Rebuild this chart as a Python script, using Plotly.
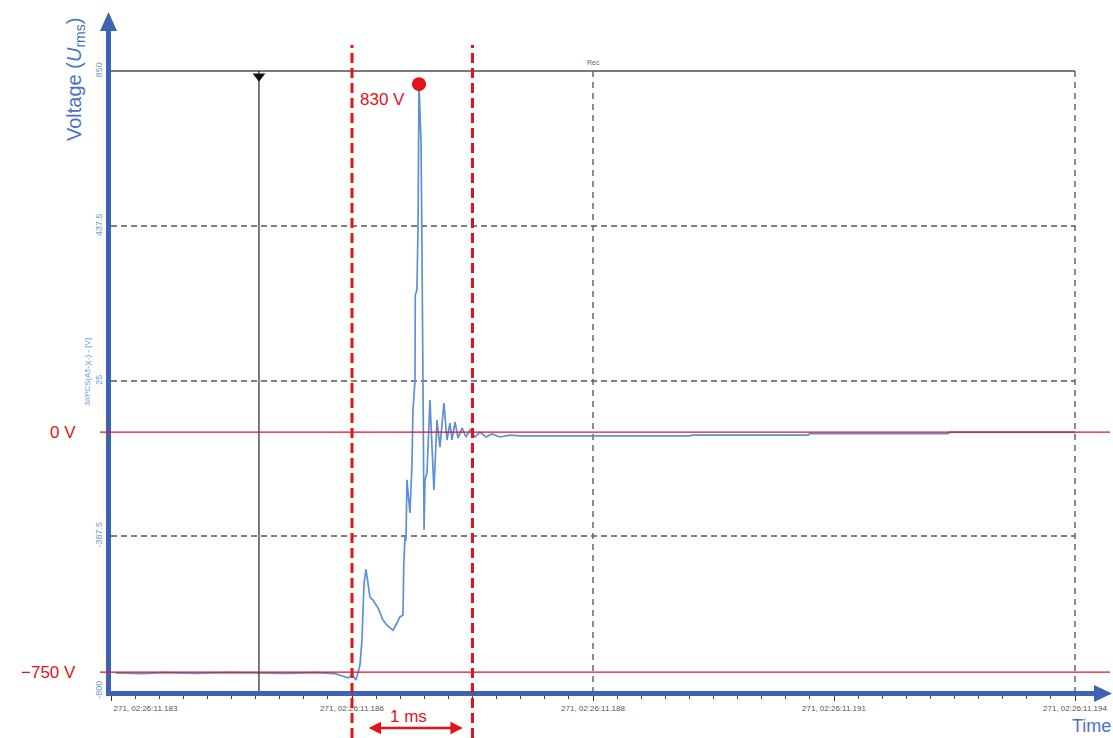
import plotly.graph_objects as go

# ---------------- data ----------------
time_ms = [0.04, 0.25, 0.45, 0.70, 0.95, 1.20, 1.45, 1.70, 1.86, 1.92, 1.97, 2.00, 2.033,
           2.066, 2.083, 2.091, 2.100, 2.116, 2.125, 2.133, 2.149, 2.174, 2.216, 2.257, 2.290,
           2.315, 2.340, 2.373, 2.398, 2.423, 2.430, 2.440, 2.448, 2.456, 2.465, 2.481, 2.498,
           2.506, 2.523, 2.525, 2.539, 2.548, 2.556, 2.573, 2.581, 2.589, 2.593, 2.598, 2.606,
           2.622, 2.647, 2.664, 2.680, 2.705, 2.730, 2.763, 2.788, 2.813, 2.830, 2.855, 2.880,
           2.913, 2.946, 2.979, 3.021, 3.062, 3.112, 3.162, 3.228, 3.311, 3.394, 3.510, 4.805,
           4.820, 5.784, 5.800, 6.946, 6.960, 8.000]
voltage = [-752, -754, -751, -753, -751, -752, -753, -751, -754, -760, -765, -757, -771,
           -731, -664, -590, -513, -476, -500, -518, -550, -558, -579, -611, -625,
           -632, -638, -619, -603, -598, -459, -390, -400, -238, -265, -326, -193,
           -52, 28, 254, 267, 435, 815, 658, 366, 73, -105, -371, -238,
           -220, -26, -159, -265, -79, -151, -34, -132, -87, -132, -84, -127,
           -100, -124, -105, -124, -111, -124, -116, -124, -119, -121, -121, -121,
           -119, -119, -115, -115, -111, -111]

y_tick_vals = [850, 437.5, 25, -387.5, -800]
y_tick_text = ["850", "437.5", "25", "-387.5", "-800"]
x_tick_vals = [0, 2, 4, 6, 8]
x_tick_text = ["271, 02:26:11.183", "271, 02:26:11.186", "271, 02:26:11.188",
               "271, 02:26:11.191", "271, 02:26:11.194"]
dashed_grid_y = [437.5, 25, -387.5]
solid_top_y = 850
grid_x = [4, 8]
cursor_x = 1.228
window_x = [2.0, 3.0]          # red dashed 1 ms window
ref_levels = [-111, -750]      # red reference lines
ref_labels = ["0 V", "\u2212750 V"]
peak_x, peak_v = 2.556, 815
peak_label = "830 V"

# ---------------- layout geometry ----------------
X0, X1 = 0.0, 8.166
Y0, Y1 = -800.0, 964.4
W, H = 1113, 738
ML, MR, MT, MB = 111, 18, 28, 47
PW, PH = W - ML - MR, H - MT - MB

def xp_px(px):
    return (px - ML) / PW

def yp_px(py):
    return (H - MB - py) / PH

def xp(u):
    return (u - X0) / (X1 - X0)

def yp(v):
    return (v - Y0) / (Y1 - Y0)

RED = "#e3121b"
BLUE_AX = "#3d64b3"
BLUE_TXT = "#4a74c4"
BLUE_TICK = "#6a9bd8"
FONT = "Arial, Liberation Sans, sans-serif"

fig = go.Figure()

# signal
fig.add_trace(go.Scatter(x=time_ms, y=voltage, mode="lines",
                         line=dict(color="#5e90d8", width=1.7), hoverinfo="skip"))
# cursor line
fig.add_trace(go.Scatter(x=[cursor_x, cursor_x], y=[solid_top_y, -800], mode="lines",
                         line=dict(color="#222222", width=1.2), hoverinfo="skip"))
fig.add_trace(go.Scatter(x=[cursor_x], y=[solid_top_y - 14], mode="markers",
                         marker=dict(symbol="triangle-down", size=11, color="#111111"),
                         hoverinfo="skip"))
# peak dot
fig.add_trace(go.Scatter(x=[peak_x], y=[peak_v], mode="markers",
                         marker=dict(size=14, color=RED), hoverinfo="skip"))

shapes = []
# top solid line
shapes.append(dict(type="line", xref="x", yref="y", x0=0, x1=8, y0=solid_top_y, y1=solid_top_y,
                   line=dict(color="#7a7a7a", width=2), layer="below"))
for gy in dashed_grid_y:
    shapes.append(dict(type="line", xref="x", yref="y", x0=0, x1=8, y0=gy, y1=gy,
                       line=dict(color="#555555", width=1.5, dash="6px,4px"), layer="below"))
for gx in grid_x:
    shapes.append(dict(type="line", xref="x", yref="y", x0=gx, x1=gx, y0=solid_top_y, y1=-800,
                       line=dict(color="#666666", width=1.5, dash="6px,5px"), layer="below"))
# red reference lines
for lv in ref_levels:
    shapes.append(dict(type="line", xref="paper", yref="paper", x0=xp_px(100), x1=xp_px(1110),
                       y0=yp(lv), y1=yp(lv), line=dict(color=RED, width=1.3)))
# red dashed window
for wx in window_x:
    shapes.append(dict(type="line", xref="paper", yref="paper", x0=xp(wx), x1=xp(wx),
                       y0=yp_px(738), y1=yp_px(45), line=dict(color=RED, width=3, dash="10px,5px")))
# axis arrowheads
shapes.append(dict(type="path", xref="paper", yref="paper",
                   path=f"M {xp_px(100)},{yp_px(31)} L {xp_px(117)},{yp_px(31)} L {xp_px(108.5)},{yp_px(12)} Z",
                   fillcolor=BLUE_AX, line=dict(width=0)))
shapes.append(dict(type="path", xref="paper", yref="paper",
                   path=f"M {xp_px(1094)},{yp_px(685)} L {xp_px(1094)},{yp_px(702)} L {xp_px(1112)},{yp_px(693.5)} Z",
                   fillcolor=BLUE_AX, line=dict(width=0)))

annotations = []
for lv, lt in zip(ref_levels, ref_labels):
    annotations.append(dict(text=lt, xref="paper", yref="paper", x=xp_px(78), y=yp(lv),
                            xanchor="right", yanchor="middle", showarrow=False,
                            font=dict(size=17, color=RED, family=FONT)))
annotations.append(dict(text=peak_label, xref="paper", yref="y", x=xp_px(358), y=peak_v - 42,
                        xanchor="left", yanchor="middle", showarrow=False,
                        font=dict(size=17, color=RED, family=FONT)))
annotations.append(dict(text="1 ms", xref="x", yref="paper", x=(window_x[0] + window_x[1]) / 2 - 0.03,
                        y=yp_px(716), xanchor="center", yanchor="middle", showarrow=False,
                        font=dict(size=17, color=RED, family=FONT)))
annotations.append(dict(text="", xref="x", yref="paper", x=window_x[1] - 0.08, y=yp_px(728),
                        axref="x", ayref="pixel", ax=window_x[0] + 0.125, ay=0,
                        showarrow=True, arrowside="end+start", arrowhead=2, arrowsize=1,
                        arrowwidth=2.5, arrowcolor=RED, standoff=0, startstandoff=0))
annotations.append(dict(text="Voltage (<i>U</i><sub>rms</sub>)", xref="paper", yref="paper",
                        x=xp_px(75), y=yp_px(80), textangle=-90, showarrow=False,
                        xanchor="center", yanchor="middle",
                        font=dict(size=20, color=BLUE_TXT, family=FONT)))
annotations.append(dict(text="3#PCS(A5-)(-) - [V]", xref="paper", yref="paper",
                        x=xp_px(88), y=yp_px(372), textangle=-90, showarrow=False,
                        xanchor="center", yanchor="middle",
                        font=dict(size=8, color=BLUE_TICK, family=FONT)))
annotations.append(dict(text="Time", xref="paper", yref="paper", x=xp_px(1091), y=yp_px(726),
                        showarrow=False, xanchor="center", yanchor="middle",
                        font=dict(size=18, color=BLUE_TXT, family=FONT)))
annotations.append(dict(text="Rec", xref="x", yref="paper", x=4, y=yp_px(62),
                        showarrow=False, xanchor="center", yanchor="middle",
                        font=dict(size=7, color="#666666", family=FONT)))

pad = "\u00a0" * 31
x_text = [pad + x_tick_text[0]] + x_tick_text[1:]

fig.update_layout(
    template="none",
    width=W, height=H,
    margin=dict(l=ML, r=MR, t=MT, b=MB, pad=0),
    paper_bgcolor="white", plot_bgcolor="white",
    showlegend=False,
    shapes=shapes, annotations=annotations,
    xaxis=dict(range=[X0, X1], showgrid=False, zeroline=False, showline=True,
               linecolor=BLUE_AX, linewidth=5, ticks="outside", ticklen=5, tickwidth=1,
               tickcolor="#333333", tickvals=x_tick_vals, ticktext=x_text,
               ticklabeloverflow="allow",
               tickfont=dict(size=8, color="#555555", family=FONT), automargin=False,
               minor=dict(dtick=0.2, ticks="outside", ticklen=3, tickcolor="#444444", showgrid=False)),
    yaxis=dict(range=[Y0, Y1], showgrid=False, zeroline=False, showline=True,
               linecolor=BLUE_AX, linewidth=5, ticks="", tickvals=y_tick_vals,
               ticktext=y_tick_text, tickangle=-90,
               tickfont=dict(size=9, color=BLUE_TICK, family=FONT), automargin=False),
)

fig.write_html("out.html")
